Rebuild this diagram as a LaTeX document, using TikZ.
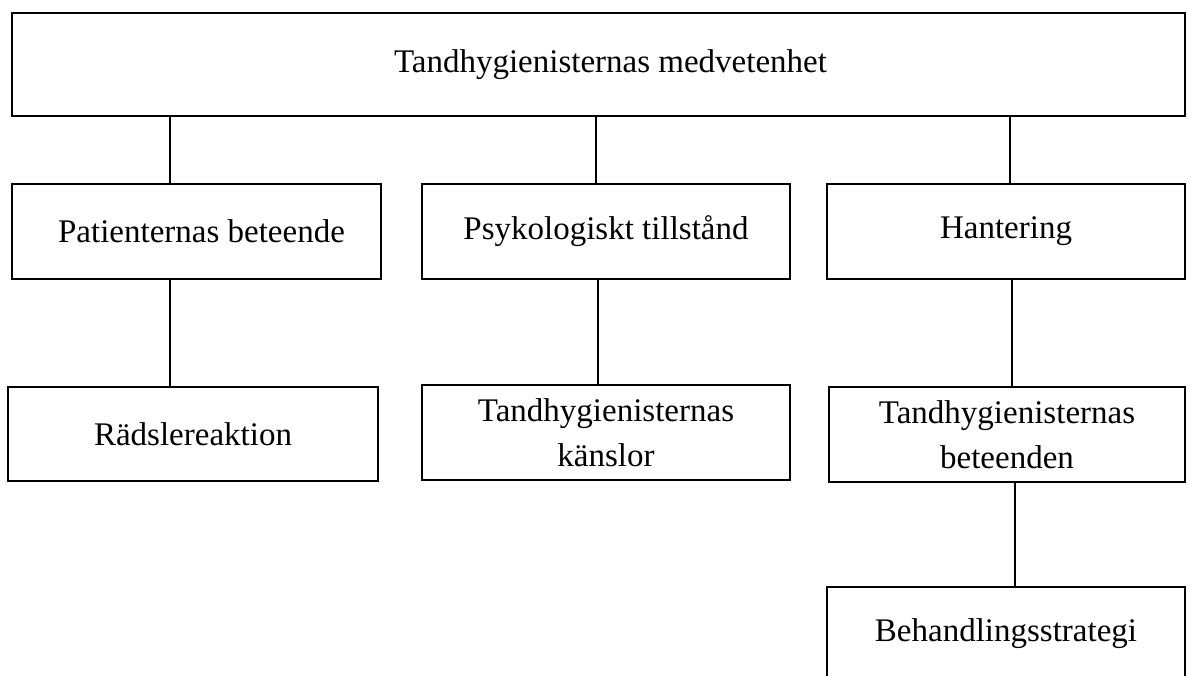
\documentclass[tikz,border=0pt]{standalone}
\usepackage{fontspec}
\setmainfont{Liberation Serif}
\usepackage{tikz}

\begin{document}
\begin{tikzpicture}[x=0.5pt,y=-0.5pt,thin]
                \tikzset{box/.style={draw, line width=0.9pt, inner sep=0pt, minimum height=47.5pt,
                    align=center, font=\fontsize{16.5}{22.5}\selectfont}}
                \useasboundingbox (0,0) rectangle (1192,675);
                \clip (0,0) rectangle (1192,675);
                \node[box, minimum width=586.5pt, minimum height=51.5pt] (top) at (598.5,64.5) {\hspace*{12pt}Tandhygienisternas medvetenhet};
                \node[box, minimum width=184.5pt] (pb) at (196.5,231.5) {\hspace*{5pt}Patienternas beteende};
                \node[box, minimum width=184pt] (pt) at (606,231.5) {Psykologiskt tillstånd};
                \node[box, minimum width=179pt] (ha) at (1006,231.5) {Hantering};
                \node[box, minimum width=185pt, minimum height=47pt] (rr) at (193,434) {Rädslereaktion};
                \node[box, minimum width=184pt] (tk) at (606,432.5) {Tandhygienisternas\\ känslor};
                \node[box, minimum width=178pt] (tb) at (1007,434.5) {Tandhygienisternas\\beteenden};
                \node[box, minimum width=179pt, minimum height=46.5pt] (bs) at (1006,633.5) {Behandlingsstrategi};
                \coordinate (x1) at (170,0);
                \coordinate (x2) at (596,0);
                \coordinate (x3) at (598,0);
                \coordinate (x4) at (1010,0);
                \coordinate (x5) at (1012,0);
                \coordinate (x6) at (1015,0);
                \draw[line width=0.9pt] (x1 |- top.south) -- (x1 |- pb.north);
                \draw[line width=0.9pt] (x2 |- top.south) -- (x2 |- pt.north);
                \draw[line width=0.9pt] (x4 |- top.south) -- (x4 |- ha.north);
                \draw[line width=0.9pt] (x1 |- pb.south) -- (x1 |- rr.north);
                \draw[line width=0.9pt] (x3 |- pt.south) -- (x3 |- tk.north);
                \draw[line width=0.9pt] (x5 |- ha.south) -- (x5 |- tb.north);
                \draw[line width=0.9pt] (x6 |- tb.south) -- (x6 |- bs.north);
            \end{tikzpicture}
\end{document}
